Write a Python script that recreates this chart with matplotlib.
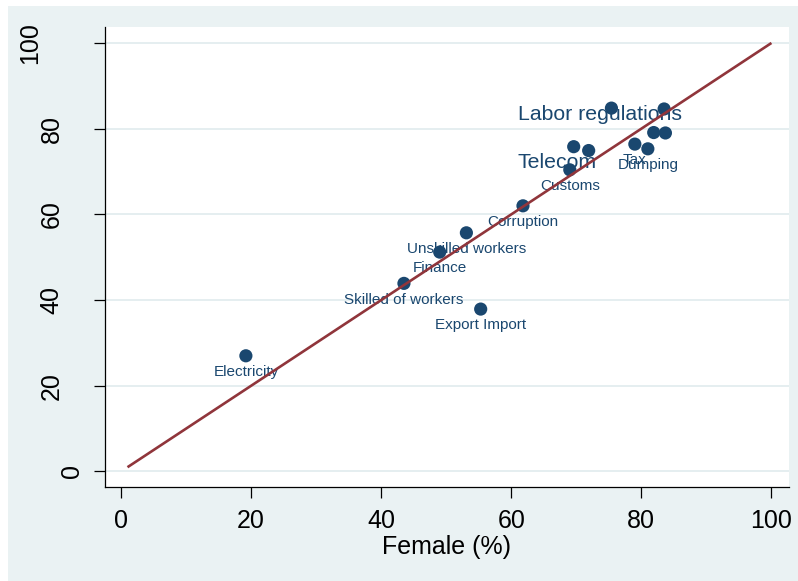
import matplotlib
matplotlib.use("Agg")
import matplotlib.pyplot as plt
from matplotlib.patches import Rectangle
from matplotlib.transforms import offset_copy

plt.rcParams["font.family"] = ["Liberation Sans", "DejaVu Sans"]

# Share (%) of respondents naming each constraint, female vs male
female = [19.2, 43.5, 49.0, 53.1, 61.8, 55.3, 69.0, 79.0, 81.0,
          75.4, 83.5, 81.9, 83.7, 69.6, 71.9]
male = [27.0, 43.9, 51.2, 55.7, 62.0, 37.9, 70.4, 76.4, 75.3,
        84.8, 84.6, 79.1, 79.0, 75.8, 74.9]
point_labels = ["Electricity", "Skilled of workers", "Finance",
                "Unskilled workers", "Corruption", "Export Import",
                "Customs", "Tax", "Dumping",
                "", "", "", "", "", ""]

# Larger free-standing annotations
note_text = ["Labor regulations", "Telecom"]
note_x = [61.0, 61.0]
note_y = [83.3, 72.1]

# 45-degree equality line
diag = [1, 100]

x_ticks = [0, 20, 40, 60, 80, 100]
y_ticks = [0, 20, 40, 60, 80, 100]

NAVY = "#1A476F"
MAROON = "#90353B"
BG = "#EAF2F3"

fig = plt.figure(figsize=(7.98, 5.81), dpi=100, facecolor="white")
bg = Rectangle((8 / 798, 0), 1, 1 - 6 / 581, transform=fig.transFigure,
               facecolor=BG, edgecolor="none", zorder=-10)
fig.patches.append(bg)

ax = fig.add_axes([105 / 798, 1 - 487 / 581, 684 / 798, 460 / 581])
ax.set_zorder(1)
ax.set_facecolor("white")
ax.set_xlim(-2.46, 102.7)
ax.set_ylim(-3.62, 103.73)

for s in ["top", "right"]:
    ax.spines[s].set_visible(False)
for s in ["left", "bottom"]:
    ax.spines[s].set_linewidth(0.9)
    ax.spines[s].set_color("black")

ax.set_yticks(y_ticks)
ax.set_xticks(x_ticks)
ax.yaxis.grid(True, color="#E3EDEF", linewidth=1.3)
ax.set_axisbelow(True)
ax.tick_params(axis="both", direction="out", length=8, width=0.9,
               color="black")
ax.tick_params(axis="x", labelsize=18, pad=7.5)
ax.tick_params(axis="y", labelleft=False)

# rotated y tick labels
for t in y_ticks:
    s = str(t)
    off = 11.5 + 21 * len(s)
    tr = offset_copy(ax.get_yaxis_transform(), fig=fig, x=-off, y=0,
                     units="dots")
    ax.text(0, t, s, transform=tr, rotation=90, ha="center", va="center",
            fontsize=18, color="black", clip_on=False)

ax.set_xlabel("Female (%)", fontsize=18, labelpad=2)

ax.scatter(female, male, s=90, color=NAVY, edgecolors="none", zorder=3)

for xv, yv, lab in zip(female, male, point_labels):
    if lab:
        ax.annotate(lab, (xv, yv), xytext=(0, -14.5),
                    textcoords="offset points", ha="center",
                    va="baseline", fontsize=11, color=NAVY, zorder=4)

for txt, xv, yv in zip(note_text, note_x, note_y):
    ax.text(xv, yv, txt, ha="left", va="center", fontsize=15.3,
            color=NAVY, zorder=4)

ax.plot(diag, diag, color=MAROON, linewidth=1.9, zorder=5,
        solid_capstyle="butt")

fig.savefig("out.png", dpi=100, facecolor=fig.get_facecolor())
